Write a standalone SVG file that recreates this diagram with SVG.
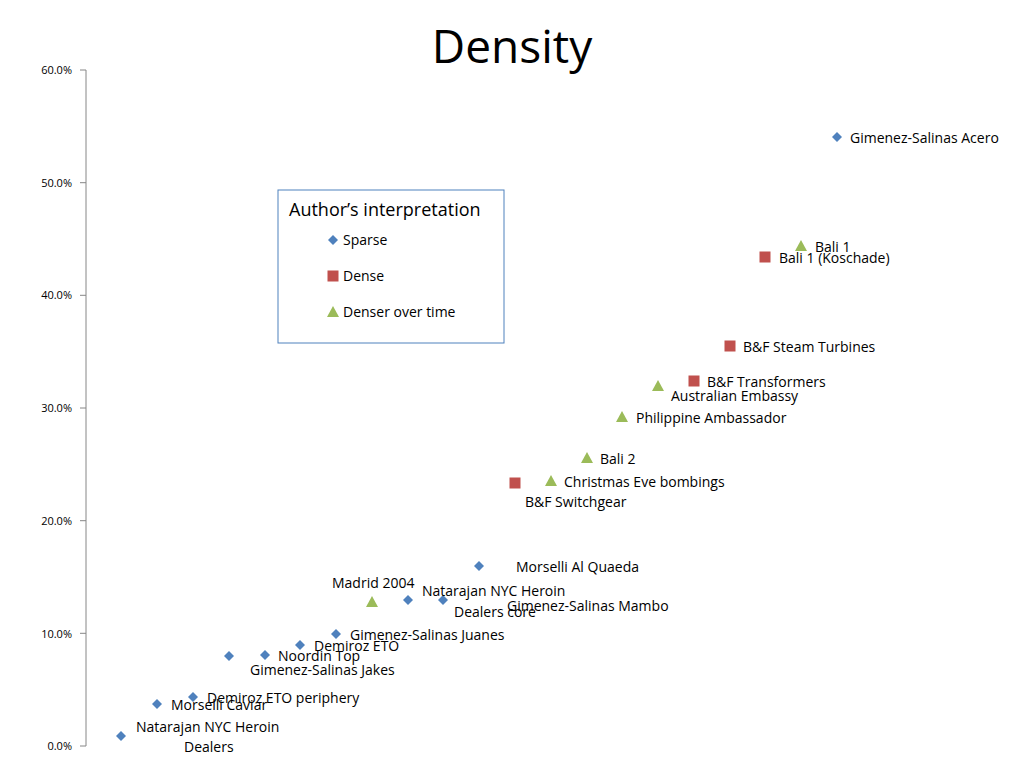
<svg xmlns="http://www.w3.org/2000/svg" width="1024" height="768" viewBox="0 0 1024 768">
<style>
text{font-family:"Open Sans","Liberation Sans",sans-serif;fill:#000}
.l{font-size:14px}
.t{font-size:11px;text-anchor:end}
.ax{stroke:#868686;stroke-width:1;fill:none}
</style>
<defs>
<path id="d" d="M0,-5 L5,0 L0,5 L-5,0Z" fill="#4F81BD"/>
<rect id="s" x="-5.5" y="-5.5" width="11" height="11" fill="#C0504D"/>
<path id="g" d="M0,-6 L6,5 L-6,5Z" fill="#9BBB59"/>
</defs>
<rect width="1024" height="768" fill="#fff"/>
<text x="512" y="63" font-size="46" text-anchor="middle">Density</text>
<g id="axis">
<path class="ax" d="M86,70 V746 M80,70 H86 M80,182.7 H86 M80,295.3 H86 M80,408 H86 M80,520.7 H86 M80,633.3 H86 M80,746 H86"/>
<text class="t" x="72" y="74">60.0%</text>
<text class="t" x="72" y="187">50.0%</text>
<text class="t" x="72" y="299">40.0%</text>
<text class="t" x="72" y="412">30.0%</text>
<text class="t" x="72" y="525">20.0%</text>
<text class="t" x="72" y="638">10.0%</text>
<text class="t" x="72" y="750">0.0%</text>
</g>
<g id="points">
<use href="#d" x="837" y="137"/><use href="#d" x="479" y="566"/><use href="#d" x="443" y="600"/><use href="#d" x="408" y="600"/><use href="#d" x="336" y="634"/><use href="#d" x="300" y="645"/><use href="#d" x="265" y="655"/><use href="#d" x="229" y="656"/><use href="#d" x="193" y="697"/><use href="#d" x="157" y="704"/><use href="#d" x="121" y="736"/>
<use href="#s" x="765" y="257"/><use href="#s" x="730" y="346"/><use href="#s" x="694" y="381"/><use href="#s" x="515" y="483"/>
<use href="#g" x="801" y="246"/><use href="#g" x="658" y="386"/><use href="#g" x="622" y="417"/><use href="#g" x="587" y="458"/><use href="#g" x="551" y="481"/><use href="#g" x="372" y="602"/>
</g>
<g id="labels">
<text class="l" x="850" y="143">Gimenez-Salinas Acero</text>
<text class="l" x="815" y="252">Bali 1</text>
<text class="l" x="779" y="263">Bali 1 (Koschade)</text>
<text class="l" x="743" y="352">B&amp;F Steam Turbines</text>
<text class="l" x="707" y="387">B&amp;F  Transformers</text>
<text class="l" x="671" y="401">Australian Embassy</text>
<text class="l" x="636" y="423">Philippine Ambassador</text>
<text class="l" x="600" y="464">Bali 2</text>
<text class="l" x="564" y="487">Christmas Eve bombings</text>
<text class="l" x="525" y="507">B&amp;F Switchgear</text>
<text class="l" x="516" y="572">Morselli Al Quaeda</text>
<text class="l" x="332" y="588">Madrid 2004</text>
<text class="l" x="422" y="596">Natarajan NYC Heroin</text>
<text class="l" x="454" y="617">Dealers core</text>
<text class="l" x="507" y="611">Gimenez-Salinas Mambo</text>
<text class="l" x="350" y="640">Gimenez-Salinas Juanes</text>
<text class="l" x="314" y="651">Demiroz ETO</text>
<text class="l" x="278" y="661">Noordin Top</text>
<text class="l" x="250" y="675">Gimenez-Salinas Jakes</text>
<text class="l" x="207" y="703">Demiroz ETO periphery</text>
<text class="l" x="171" y="710">Morselli Caviar</text>
<text class="l" x="136" y="732">Natarajan NYC Heroin</text>
<text class="l" x="184" y="752">Dealers</text>
</g>
<g id="legend">
<rect x="278" y="190" width="226" height="153" fill="#fff" stroke="#4F81BD"/>
<text x="289" y="216" font-size="18">Author’s interpretation</text>
<use href="#d" x="333" y="240"/><text class="l" x="343" y="245">Sparse</text>
<use href="#s" x="333" y="276"/><text class="l" x="343" y="281">Dense</text>
<use href="#g" x="333" y="312"/><text class="l" x="343" y="317">Denser over time</text>
</g>
</svg>
